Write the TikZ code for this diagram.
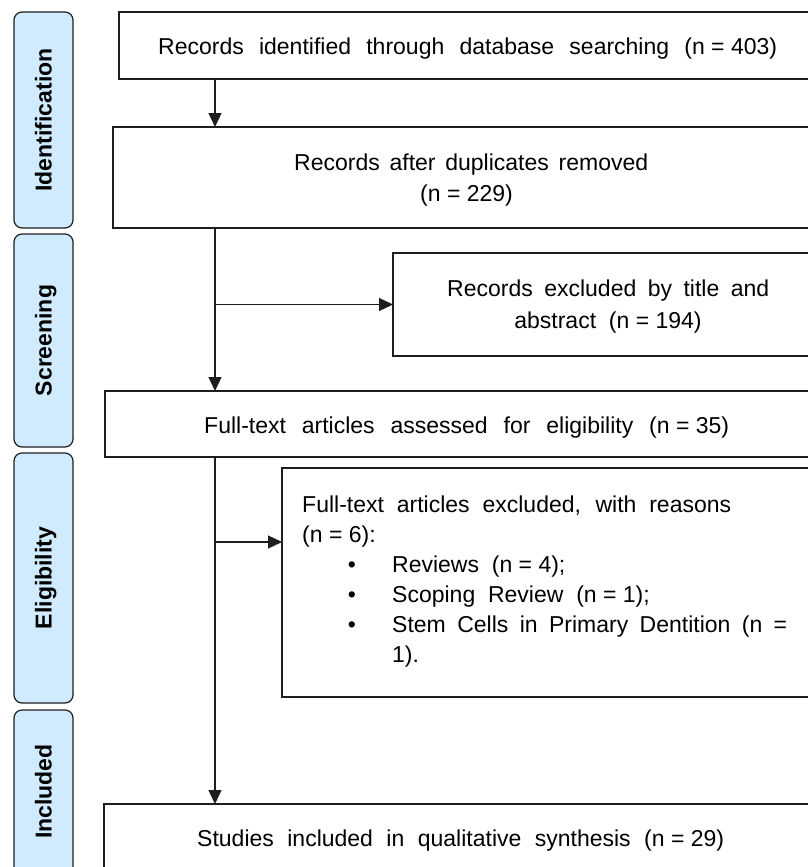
\documentclass[tikz,border=0pt]{standalone}
\usepackage{fontspec}
\setmainfont{Liberation Sans}
\usetikzlibrary{arrows.meta}
\definecolor{lblue}{HTML}{CFEBFD}
\definecolor{edge}{HTML}{1E1E1E}
\newcommand\jtext[2]{\makebox[#1][s]{#2}}
\tikzset{
  box/.style={draw=edge, line width=1.3pt, inner sep=0pt, outer sep=0pt, anchor=north west},
  phase/.style={draw=edge, fill=lblue, line width=1.2pt, rounded corners=8pt, inner sep=0pt, outer sep=0pt, anchor=north west, minimum width=59pt},
  phasetxt/.style={rotate=90, anchor=base, inner sep=0pt, font=\fontsize{23pt}{26pt}\selectfont\bfseries},
  txt/.style={anchor=base west, inner sep=0pt, font=\fontsize{23pt}{26pt}\selectfont},
  bul/.style={anchor=base, inner sep=0pt, font=\fontsize{23pt}{26pt}\selectfont},
  arr/.style={draw=edge, line width=1.3pt, -{Triangle[length=14pt,width=13pt]}},
}
\begin{document}
\begin{tikzpicture}[x=1pt,y=-1pt]
\useasboundingbox (0,0) rectangle (808,867);
% phase labels
\node[phase, minimum height=216pt] (p1) at (14,12) {};
\node[phase, minimum height=213pt] (p2) at (14,234) {};
\node[phase, minimum height=250pt] (p3) at (14,453) {};
\node[phase, minimum height=175pt] (p4) at (14,710) {};
\path (p1.center) ++(8.2,0) node[phasetxt] (pt1) {Identification};
\path (p2.center) ++(8.2,0) node[phasetxt] (pt2) {Screening};
\path (p3.center) ++(8.2,0) node[phasetxt] (pt3) {Eligibility};
\path (p4.center) ++(8.2,-6) node[phasetxt] (pt4) {Included};
% boxes
\node[box, minimum width=711pt, minimum height=67pt] (b1) at (119,12) {};
\node[box, minimum width=717pt, minimum height=101pt] (b2) at (113,127) {};
\node[box, minimum width=437pt, minimum height=103pt] (e1) at (393,253) {};
\node[box, minimum width=725pt, minimum height=66pt] (b3) at (105,391) {};
\node[box, minimum width=548pt, minimum height=229pt] (e2) at (282,468) {};
\node[box, minimum width=726pt, minimum height=72pt] (b4) at (104,804) {};
% texts
\node[txt] (t1) at (158,55) {\jtext{619pt}{Records identified through database searching \hbox{(n = 403)}}};
\node[txt] (t2a) at (294,170) {\jtext{354pt}{Records after duplicates removed}};
\node[txt] (t2b) at (420,201) {(n = 229)};
\node[txt] (te1a) at (447,296) {\jtext{322pt}{Records excluded by title and}};
\node[bul] (te1b) at (608,328) {abstract\ \ (n = 194)};
\node[txt] (t3) at (204,433) {\jtext{525pt}{Full-text articles assessed for eligibility \hbox{(n = 35)}}};
\node[txt] (te2a) at (302,512) {\jtext{429pt}{Full-text articles excluded, with reasons}};
\node[txt] (te2b) at (302,542) {(n = 6):};
\node[bul] (bu1) at (352,572) {\textbullet};
\node[bul] (bu2) at (352,602) {\textbullet};
\node[bul] (bu3) at (352,632) {\textbullet};
\node[txt] (te2c) at (392,572) {Reviews\ \ (n = 4);};
\node[txt] (te2d) at (392,602) {Scoping\ \ Review\ \ (n = 1);};
\node[txt] (te2e) at (392,632) {\jtext{395pt}{Stem Cells in Primary Dentition (n =}};
\node[txt] (te2f) at (392,662) {1).};
\node[txt] (t4) at (197,846) {\jtext{527pt}{Studies included in qualitative synthesis \hbox{(n = 29)}}};
% connectors
\coordinate (sp) at (215,0);
\coordinate (j2) at (215,542);
\draw[arr] (sp |- b1.south) -- (sp |- b2.north);
\draw[arr] (sp |- b2.south) -- (sp |- b3.north);
\draw[arr] (sp |- e1.west) -- (e1.west);
\draw[arr] (sp |- b3.south) -- (sp |- b4.north);
\draw[arr] (j2) -- (j2 -| e2.west);
\end{tikzpicture}
\end{document}
